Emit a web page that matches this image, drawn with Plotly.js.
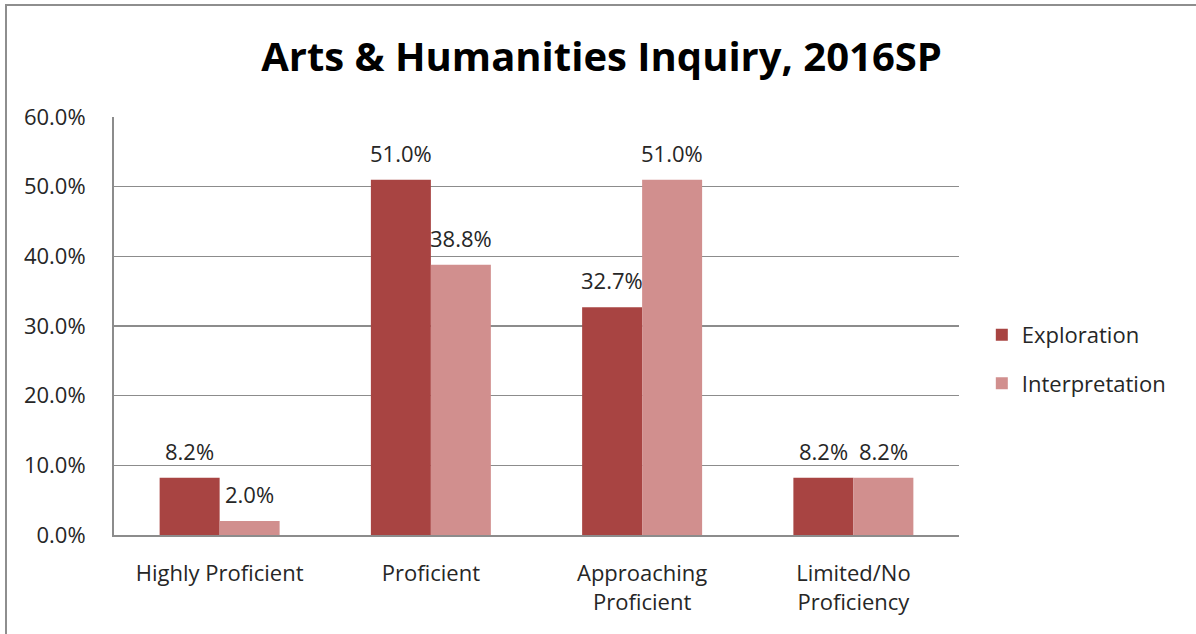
<!DOCTYPE html>
<html>
<head>
<meta charset="utf-8">
<script src="https://cdn.plot.ly/plotly-3.0.1.min.js"></script>
<style>
  html, body { margin: 0; padding: 0; background: #fff; }
  #wrap { position: relative; width: 1196px; height: 634px; overflow: hidden; }
  #chart { position: absolute; left: 0; top: 0; width: 1196px; height: 634px; }
  #frame { position: absolute; left: 5px; top: 4px; width: 1300px; height: 700px;
           border-left: 2px solid #8e8e8e; border-top: 2px solid #8e8e8e; pointer-events: none; }
</style>
</head>
<body>
<div id="wrap">
  <div id="chart"></div>
  <div id="frame"></div>
</div>
<script>
const categories = ["Highly Proficient", "Proficient", "Approaching<br>Proficient", "Limited/No<br>Proficiency"];
const seriesNames = ["Exploration", "Interpretation"];
const exploration = [0.082, 0.510, 0.327, 0.082];
const interpretation = [0.020, 0.388, 0.510, 0.082];
const yTickVals = [0, 0.1, 0.2, 0.3, 0.4, 0.5, 0.6];
const titleText = "Arts & Humanities Inquiry, 2016SP";

const colors = ["#A84442", "#D18F8E"];
const FONT = "Open Sans, Arial, sans-serif";
const seriesValues = [exploration, interpretation];

const traces = seriesValues.map((vals, i) => ({
  type: "bar",
  name: seriesNames[i],
  x: categories,
  y: vals,
  marker: { color: colors[i] },
  legendgroup: "g" + i,
  hoverinfo: "none"
}));

const annotations = [];
seriesValues.forEach((vals, i) => {
  vals.forEach((v, j) => {
    annotations.push({
      x: categories[j], y: v, xref: "x", yref: "y",
      text: (v * 100).toFixed(1) + "%",
      showarrow: false, yanchor: "bottom",
      xshift: i === 0 ? -30 : 30, yshift: 10,
      font: { family: FONT, size: 22, color: "#262626" }
    });
  });
});

const layout = {
  width: 1196, height: 634,
  margin: { l: 114, r: 237, t: 117, b: 99 },
  paper_bgcolor: "#ffffff", plot_bgcolor: "#ffffff",
  title: { text: titleText, x: 0.503, xanchor: "center", y: 0.91, yanchor: "middle",
           font: { family: FONT, size: 40, color: "#000000", weight: "bold" } },
  barmode: "group",
  bargap: 0.432,
  bargroupgap: 0,
  showlegend: true,
  legend: { x: 1.027, xanchor: "left", y: 0.42, yanchor: "middle",
            font: { family: FONT, size: 22, color: "#262626" },
            tracegroupgap: 17, bgcolor: "rgba(0,0,0,0)" },
  xaxis: { type: "category", showgrid: false, ticks: "", showline: true,
           linecolor: "#8c8c8c", linewidth: 2, ticklabelstandoff: 18,
           tickfont: { family: FONT, size: 22, color: "#262626" }, fixedrange: true },
  yaxis: { range: [0, 0.6], tickvals: yTickVals, tickformat: ".1%",
           showgrid: true, gridcolor: "#8c8c8c", gridwidth: 1.5,
           zeroline: false, showline: true, linecolor: "#8c8c8c", linewidth: 2,
           ticks: "", ticklabelstandoff: 22,
           tickfont: { family: FONT, size: 22, color: "#262626" }, fixedrange: true },
  annotations: annotations,
  font: { family: FONT }
};

Plotly.newPlot("chart", traces, layout, { displayModeBar: false, staticPlot: true });
</script>
</body>
</html>
